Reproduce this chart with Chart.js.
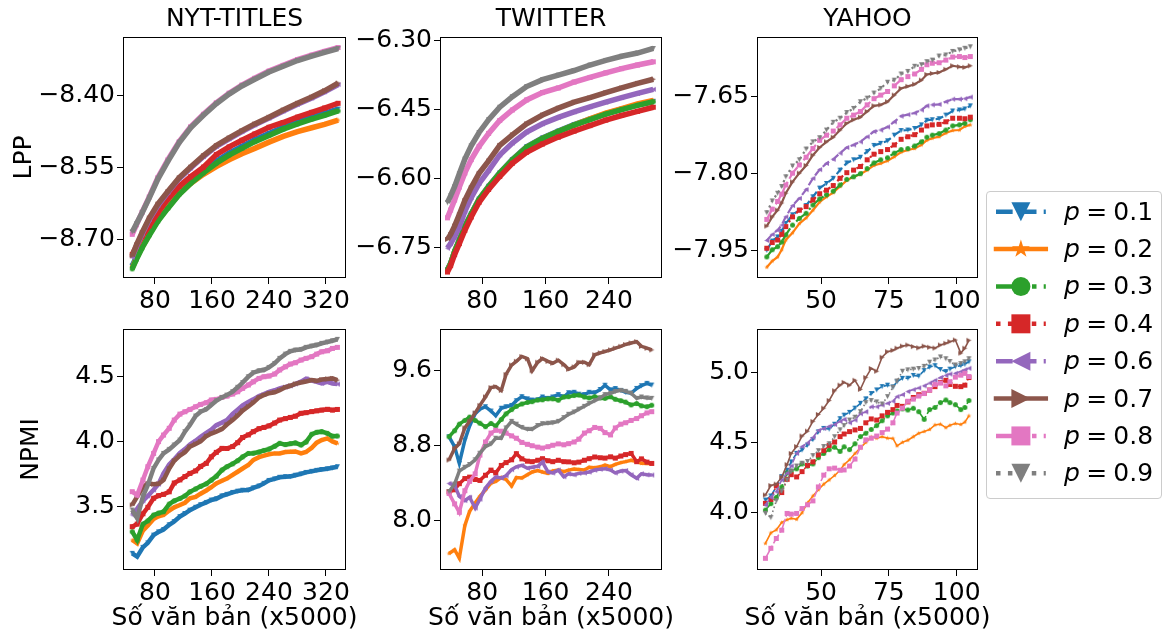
<!DOCTYPE html>
<html>
<head>
<meta charset="utf-8">
<title>LPP / NPMI theo số văn bản</title>
<script src="https://cdn.jsdelivr.net/npm/chart.js@4.4.1/dist/chart.umd.min.js"></script>
<style>
  html, body { margin: 0; padding: 0; background: #fff; }
  body { position: relative; width: 1165px; height: 637px; overflow: hidden;
         font-family: "DejaVu Sans", sans-serif; color: #000; }
  .panel { position: absolute; }
  .ptitle, .xlabel { position: absolute; width: 300px; font-size: 25px; line-height: 30px;
            text-align: center; white-space: nowrap; }
  #legend { position: absolute; left: 986px; top: 191px; width: 174px; height: 306px;
            border: 1px solid #cccccc; border-radius: 4px; background: #fff; }
  #lcanvas { position: absolute; left: 986px; top: 191px; }
  .lrow { position: absolute; left: 1064px; font-size: 25px; line-height: 30px; white-space: nowrap; }
</style>
</head>
<body>
<div id="legend"></div>
<canvas id="lcanvas" width="176" height="308"></canvas>
<script>
const P_VALUES = ['0.1', '0.2', '0.3', '0.4', '0.6', '0.7', '0.8', '0.9'];
const COLORS   = ['#1f77b4', '#ff7f0e', '#2ca02c', '#d62728', '#9467bd', '#8c564b', '#e377c2', '#7f7f7f'];
const MARKERS  = ['v', '*', 'o', 's', '<', '>', 's', 'v'];
const STYLES   = ['--', '-', '-.', ':', '--', '-', '-.', ':'];

// ---- LPP (top row), one list per p in P_VALUES order ----
const NYT_X_LPP = [48, 54, 62, 72, 84, 98, 114, 130, 148, 166, 184, 202, 220, 240, 260, 280, 300, 318, 337];
const NYT_LPP = [
  [-8.756, -8.737, -8.713, -8.688, -8.659, -8.632, -8.603, -8.580, -8.558, -8.538, -8.521, -8.507, -8.493, -8.480, -8.467, -8.456, -8.446, -8.438, -8.429],
  [-8.760, -8.740, -8.716, -8.690, -8.661, -8.634, -8.606, -8.584, -8.565, -8.549, -8.535, -8.522, -8.511, -8.498, -8.486, -8.476, -8.468, -8.461, -8.452],
  [-8.762, -8.742, -8.718, -8.692, -8.663, -8.636, -8.607, -8.584, -8.562, -8.542, -8.525, -8.511, -8.497, -8.484, -8.471, -8.460, -8.450, -8.442, -8.433],
  [-8.732, -8.715, -8.694, -8.672, -8.645, -8.616, -8.590, -8.570, -8.550, -8.524, -8.508, -8.494, -8.481, -8.467, -8.457, -8.446, -8.436, -8.427, -8.417],
  [-8.738, -8.715, -8.689, -8.659, -8.630, -8.603, -8.574, -8.552, -8.528, -8.507, -8.491, -8.476, -8.462, -8.448, -8.433, -8.419, -8.406, -8.393, -8.378],
  [-8.735, -8.712, -8.686, -8.656, -8.627, -8.601, -8.572, -8.550, -8.526, -8.505, -8.489, -8.474, -8.460, -8.446, -8.431, -8.417, -8.404, -8.391, -8.375],
  [-8.690, -8.670, -8.644, -8.612, -8.572, -8.535, -8.497, -8.466, -8.440, -8.416, -8.396, -8.379, -8.365, -8.350, -8.338, -8.326, -8.317, -8.309, -8.301],
  [-8.685, -8.668, -8.645, -8.614, -8.575, -8.538, -8.499, -8.468, -8.442, -8.418, -8.398, -8.381, -8.367, -8.352, -8.340, -8.328, -8.319, -8.311, -8.303]
];

const TW_X_LPP = [36, 40, 45, 51, 58, 66, 76, 88, 102, 118, 136, 156, 176, 196, 216, 236, 256, 276, 296];
const TW_LPP = [
  [-6.799, -6.785, -6.759, -6.734, -6.704, -6.677, -6.645, -6.617, -6.588, -6.559, -6.531, -6.512, -6.497, -6.483, -6.471, -6.459, -6.449, -6.440, -6.432],
  [-6.800, -6.786, -6.760, -6.735, -6.705, -6.678, -6.646, -6.618, -6.589, -6.560, -6.532, -6.513, -6.498, -6.484, -6.470, -6.458, -6.448, -6.438, -6.430],
  [-6.800, -6.786, -6.760, -6.735, -6.705, -6.678, -6.646, -6.618, -6.589, -6.560, -6.532, -6.513, -6.498, -6.484, -6.472, -6.460, -6.450, -6.441, -6.433],
  [-6.804, -6.790, -6.766, -6.742, -6.713, -6.684, -6.652, -6.624, -6.596, -6.567, -6.543, -6.525, -6.510, -6.497, -6.485, -6.473, -6.463, -6.454, -6.445],
  [-6.752, -6.742, -6.727, -6.706, -6.672, -6.642, -6.611, -6.583, -6.549, -6.523, -6.499, -6.481, -6.467, -6.455, -6.444, -6.434, -6.424, -6.415, -6.406],
  [-6.733, -6.722, -6.704, -6.679, -6.648, -6.620, -6.589, -6.562, -6.528, -6.505, -6.481, -6.462, -6.447, -6.434, -6.424, -6.413, -6.403, -6.393, -6.384],
  [-6.686, -6.669, -6.647, -6.619, -6.588, -6.559, -6.530, -6.502, -6.474, -6.451, -6.429, -6.413, -6.403, -6.390, -6.380, -6.370, -6.361, -6.353, -6.346],
  [-6.653, -6.638, -6.618, -6.590, -6.558, -6.529, -6.500, -6.472, -6.445, -6.422, -6.400, -6.385, -6.375, -6.365, -6.353, -6.343, -6.334, -6.327, -6.317]
];

const YA_X_LPP = [30, 32, 34, 35.5, 37, 39.5, 42, 44.5, 47, 49.5, 52, 54.5, 57, 59.5, 62, 64.5, 67,
                  69.5, 72, 74.5, 77, 79.5, 82, 84.5, 87, 89, 91, 93.5, 96, 98.5, 101, 103, 105];
const YA_LPP = [
  [-7.949, -7.931, -7.923, -7.912, -7.897, -7.880, -7.871, -7.862, -7.845, -7.828, -7.819, -7.809, -7.793, -7.779, -7.773, -7.768, -7.757,
   -7.745, -7.741, -7.736, -7.725, -7.716, -7.715, -7.712, -7.705, -7.696, -7.695, -7.693, -7.686, -7.678, -7.676, -7.674, -7.668],
  [-7.982, -7.970, -7.962, -7.948, -7.929, -7.915, -7.897, -7.886, -7.871, -7.855, -7.845, -7.837, -7.825, -7.813, -7.806, -7.801, -7.793,
   -7.784, -7.780, -7.775, -7.767, -7.758, -7.754, -7.751, -7.744, -7.735, -7.731, -7.728, -7.721, -7.716, -7.715, -7.708, -7.705],
  [-7.962, -7.948, -7.942, -7.933, -7.919, -7.900, -7.887, -7.877, -7.861, -7.849, -7.841, -7.834, -7.822, -7.811, -7.806, -7.800, -7.790,
   -7.779, -7.773, -7.769, -7.760, -7.753, -7.751, -7.746, -7.738, -7.729, -7.725, -7.722, -7.715, -7.707, -7.705, -7.702, -7.695],
  [-7.945, -7.934, -7.929, -7.918, -7.903, -7.884, -7.871, -7.864, -7.851, -7.839, -7.832, -7.823, -7.809, -7.798, -7.793, -7.786, -7.773,
   -7.762, -7.757, -7.753, -7.744, -7.733, -7.728, -7.724, -7.715, -7.707, -7.705, -7.704, -7.699, -7.692, -7.692, -7.693, -7.690],
  [-7.930, -7.918, -7.910, -7.900, -7.884, -7.862, -7.848, -7.831, -7.809, -7.792, -7.780, -7.772, -7.760, -7.749, -7.744, -7.738, -7.728,
   -7.718, -7.715, -7.709, -7.699, -7.688, -7.685, -7.682, -7.676, -7.668, -7.666, -7.665, -7.660, -7.655, -7.655, -7.654, -7.651],
  [-7.902, -7.884, -7.871, -7.857, -7.838, -7.816, -7.799, -7.784, -7.764, -7.749, -7.738, -7.729, -7.715, -7.702, -7.695, -7.690, -7.679,
   -7.668, -7.666, -7.660, -7.647, -7.634, -7.630, -7.626, -7.618, -7.607, -7.605, -7.603, -7.597, -7.590, -7.592, -7.593, -7.590],
  [-7.889, -7.869, -7.854, -7.840, -7.822, -7.799, -7.783, -7.768, -7.751, -7.735, -7.725, -7.717, -7.705, -7.692, -7.686, -7.679, -7.666,
   -7.654, -7.647, -7.640, -7.629, -7.617, -7.611, -7.606, -7.597, -7.588, -7.585, -7.584, -7.579, -7.573, -7.572, -7.574, -7.572],
  [-7.876, -7.853, -7.838, -7.825, -7.806, -7.785, -7.773, -7.752, -7.738, -7.730, -7.715, -7.700, -7.692, -7.681, -7.673, -7.660, -7.653,
   -7.643, -7.634, -7.622, -7.618, -7.606, -7.601, -7.591, -7.588, -7.582, -7.579, -7.571, -7.569, -7.562, -7.559, -7.556, -7.553]
];

// ---- NPMI (bottom row) ----
const NYT_X_NPMI = [48, 55, 63, 70, 78, 85, 92, 100, 107, 115, 122, 129, 137, 144, 152, 159, 166, 174, 181, 189,
                    196, 203, 211, 218, 226, 233, 240, 248, 255, 263, 270, 277, 285, 292, 300, 307, 314, 322, 329, 336];
const NYT_NPMI = [
  [3.134, 3.108, 3.180, 3.215, 3.275, 3.300, 3.318, 3.355, 3.380, 3.418, 3.442, 3.468, 3.490, 3.510, 3.528, 3.546, 3.556, 3.578, 3.590, 3.605,
   3.615, 3.622, 3.624, 3.640, 3.655, 3.675, 3.698, 3.710, 3.722, 3.727, 3.728, 3.738, 3.748, 3.760, 3.768, 3.776, 3.782, 3.788, 3.795, 3.804],
  [3.237, 3.211, 3.310, 3.350, 3.400, 3.420, 3.431, 3.465, 3.490, 3.508, 3.525, 3.559, 3.570, 3.595, 3.620, 3.645, 3.674, 3.695, 3.712, 3.740,
   3.765, 3.790, 3.817, 3.856, 3.878, 3.890, 3.900, 3.907, 3.907, 3.918, 3.920, 3.922, 3.907, 3.918, 3.950, 3.990, 4.010, 4.023, 4.000, 3.985],
  [3.302, 3.237, 3.360, 3.385, 3.430, 3.445, 3.456, 3.515, 3.540, 3.558, 3.578, 3.610, 3.632, 3.652, 3.672, 3.700, 3.730, 3.778, 3.804, 3.826,
   3.850, 3.880, 3.907, 3.908, 3.918, 3.930, 3.940, 3.962, 3.985, 3.975, 3.982, 3.988, 3.972, 3.995, 4.055, 4.070, 4.075, 4.062, 4.040, 4.041],
  [3.340, 3.360, 3.440, 3.490, 3.560, 3.580, 3.590, 3.610, 3.678, 3.702, 3.728, 3.752, 3.772, 3.806, 3.830, 3.880, 3.915, 3.946, 3.945, 3.960,
   3.990, 4.030, 4.050, 4.075, 4.098, 4.108, 4.120, 4.142, 4.165, 4.176, 4.185, 4.195, 4.217, 4.222, 4.230, 4.236, 4.242, 4.248, 4.242, 4.247],
  [3.431, 3.480, 3.540, 3.578, 3.625, 3.670, 3.753, 3.822, 3.862, 3.910, 3.940, 3.975, 4.005, 4.035, 4.065, 4.090, 4.126, 4.145, 4.165, 4.212,
   4.245, 4.279, 4.305, 4.325, 4.350, 4.365, 4.383, 4.395, 4.410, 4.420, 4.430, 4.445, 4.462, 4.485, 4.470, 4.460, 4.448, 4.460, 4.448, 4.443],
  [3.508, 3.572, 3.645, 3.675, 3.668, 3.672, 3.701, 3.790, 3.850, 3.890, 3.915, 3.959, 3.980, 4.000, 4.040, 4.060, 4.075, 4.095, 4.130, 4.165,
   4.200, 4.238, 4.270, 4.300, 4.340, 4.358, 4.372, 4.380, 4.395, 4.418, 4.430, 4.445, 4.455, 4.463, 4.474, 4.468, 4.478, 4.483, 4.487, 4.474],
  [3.611, 3.585, 3.701, 3.804, 3.907, 3.998, 4.049, 4.101, 4.165, 4.211, 4.229, 4.247, 4.268, 4.286, 4.299, 4.320, 4.325, 4.340, 4.350, 4.366,
   4.384, 4.410, 4.436, 4.461, 4.487, 4.500, 4.505, 4.521, 4.552, 4.577, 4.598, 4.608, 4.629, 4.642, 4.655, 4.675, 4.693, 4.701, 4.719, 4.727],
  [3.469, 3.405, 3.572, 3.662, 3.791, 3.856, 3.907, 3.938, 3.972, 4.010, 4.075, 4.126, 4.196, 4.229, 4.247, 4.281, 4.314, 4.340, 4.358, 4.384,
   4.418, 4.454, 4.500, 4.531, 4.546, 4.552, 4.572, 4.603, 4.642, 4.675, 4.696, 4.706, 4.711, 4.727, 4.737, 4.745, 4.758, 4.768, 4.778, 4.789]
];

const TW_X_NPMI = [38, 45, 51, 58, 64, 71, 77, 84, 91, 97, 104, 110, 117, 123, 130, 137, 143, 150, 156, 163,
                   169, 176, 183, 189, 196, 202, 209, 215, 222, 229, 235, 242, 248, 255, 261, 268, 275, 281, 288, 294];
const TW_NPMI = [
  [8.896, 8.790, 8.611, 8.860, 9.010, 9.140, 9.190, 9.216, 9.170, 9.120, 9.200, 9.216, 9.230, 9.280, 9.323, 9.300, 9.287, 9.290, 9.320, 9.305,
   9.320, 9.345, 9.320, 9.365, 9.370, 9.350, 9.345, 9.370, 9.365, 9.400, 9.445, 9.395, 9.410, 9.390, 9.370, 9.360, 9.411, 9.440, 9.465, 9.447],
  [7.650, 7.690, 7.600, 7.950, 8.100, 8.190, 8.260, 8.330, 8.400, 8.420, 8.460, 8.440, 8.370, 8.460, 8.455, 8.490, 8.520, 8.535, 8.520, 8.505,
   8.530, 8.540, 8.522, 8.540, 8.550, 8.545, 8.540, 8.570, 8.565, 8.575, 8.592, 8.576, 8.600, 8.620, 8.630, 8.645, 8.630, 8.612, 8.611, 8.611],
  [8.896, 8.960, 9.030, 9.070, 9.105, 9.070, 9.040, 9.003, 9.038, 9.010, 9.080, 9.140, 9.185, 9.220, 9.245, 9.262, 9.270, 9.287, 9.290, 9.300,
   9.300, 9.285, 9.320, 9.323, 9.335, 9.340, 9.320, 9.310, 9.323, 9.310, 9.305, 9.322, 9.295, 9.280, 9.265, 9.235, 9.250, 9.225, 9.216, 9.232],
  [8.309, 8.330, 8.395, 8.450, 8.465, 8.440, 8.430, 8.485, 8.540, 8.510, 8.590, 8.620, 8.650, 8.715, 8.660, 8.635, 8.630, 8.645, 8.662, 8.640,
   8.630, 8.645, 8.630, 8.628, 8.618, 8.625, 8.645, 8.662, 8.680, 8.672, 8.668, 8.682, 8.668, 8.690, 8.705, 8.718, 8.630, 8.660, 8.625, 8.611],
  [8.398, 8.380, 8.260, 8.215, 8.250, 8.135, 8.230, 8.350, 8.420, 8.465, 8.455, 8.480, 8.545, 8.575, 8.590, 8.560, 8.570, 8.580, 8.625, 8.520,
   8.510, 8.540, 8.470, 8.500, 8.490, 8.505, 8.510, 8.520, 8.540, 8.550, 8.555, 8.540, 8.510, 8.530, 8.535, 8.490, 8.452, 8.500, 8.490, 8.487],
  [8.647, 8.770, 8.820, 8.990, 9.060, 9.150, 9.230, 9.320, 9.420, 9.430, 9.390, 9.560, 9.660, 9.700, 9.752, 9.728, 9.600, 9.690, 9.730, 9.700,
   9.680, 9.712, 9.665, 9.615, 9.640, 9.690, 9.690, 9.665, 9.770, 9.790, 9.805, 9.822, 9.840, 9.860, 9.880, 9.895, 9.910, 9.860, 9.840, 9.822],
  [8.291, 8.180, 8.090, 8.320, 8.420, 8.500, 8.700, 8.840, 8.935, 8.965, 8.955, 8.935, 8.905, 8.880, 8.835, 8.815, 8.800, 8.785, 8.775, 8.790,
   8.805, 8.820, 8.810, 8.822, 8.840, 8.870, 8.935, 8.960, 8.995, 8.985, 8.940, 8.915, 8.990, 9.030, 9.045, 9.070, 9.090, 9.120, 9.150, 9.163],
  [8.309, 8.390, 8.530, 8.570, 8.600, 8.650, 8.720, 8.790, 8.820, 8.880, 8.880, 8.990, 9.060, 9.030, 8.995, 8.975, 8.975, 9.015, 9.035, 9.040,
   9.045, 9.060, 9.100, 9.135, 9.160, 9.190, 9.220, 9.250, 9.280, 9.310, 9.345, 9.360, 9.378, 9.390, 9.380, 9.360, 9.305, 9.320, 9.310, 9.305]
];

const YA_X_NPMI = [29.5, 31.5, 33.5, 35.5, 37.5, 39, 41, 43, 45, 47, 49, 51, 53, 55, 57, 58.5, 60.5, 62.5, 64.5, 66.5,
                   68.5, 70.5, 72.5, 74.5, 76.5, 78, 80, 82, 84, 86, 88, 90, 92, 94, 96, 97.5, 99.5, 101.5, 103, 104.5];
const YA_NPMI = [
  [4.086, 4.115, 4.180, 4.254, 4.300, 4.360, 4.421, 4.445, 4.480, 4.520, 4.575, 4.600, 4.595, 4.630, 4.670, 4.695, 4.715, 4.745, 4.780, 4.812,
   4.850, 4.876, 4.900, 4.910, 4.898, 4.935, 4.959, 4.960, 4.980, 4.975, 5.015, 5.040, 5.050, 5.022, 5.008, 5.025, 5.043, 5.050, 5.060, 5.078],
  [3.775, 3.850, 3.872, 3.925, 3.945, 3.955, 3.948, 3.995, 4.065, 4.115, 4.160, 4.200, 4.230, 4.262, 4.300, 4.340, 4.375, 4.420, 4.460, 4.500,
   4.538, 4.530, 4.540, 4.530, 4.528, 4.475, 4.500, 4.515, 4.540, 4.565, 4.578, 4.592, 4.625, 4.630, 4.605, 4.622, 4.635, 4.628, 4.645, 4.690],
  [4.014, 4.060, 4.105, 4.180, 4.280, 4.295, 4.310, 4.345, 4.330, 4.345, 4.390, 4.420, 4.448, 4.465, 4.435, 4.468, 4.448, 4.490, 4.541, 4.565,
   4.592, 4.620, 4.655, 4.690, 4.710, 4.725, 4.740, 4.732, 4.744, 4.720, 4.665, 4.735, 4.750, 4.785, 4.804, 4.785, 4.770, 4.735, 4.750, 4.800],
  [4.062, 4.090, 4.190, 4.140, 4.235, 4.268, 4.252, 4.290, 4.335, 4.360, 4.410, 4.440, 4.478, 4.502, 4.541, 4.560, 4.577, 4.589, 4.600, 4.640,
   4.668, 4.660, 4.690, 4.715, 4.735, 4.765, 4.758, 4.790, 4.822, 4.842, 4.852, 4.875, 4.900, 4.930, 4.945, 4.915, 4.902, 4.900, 4.910, 4.965],
  [4.050, 4.105, 4.145, 4.230, 4.280, 4.330, 4.421, 4.470, 4.495, 4.535, 4.585, 4.600, 4.615, 4.628, 4.650, 4.665, 4.640, 4.660, 4.705, 4.718,
   4.755, 4.755, 4.768, 4.780, 4.795, 4.828, 4.842, 4.864, 4.878, 4.890, 4.905, 4.925, 4.945, 4.965, 4.980, 4.990, 4.995, 5.008, 5.020, 5.031],
  [4.122, 4.190, 4.200, 4.250, 4.340, 4.420, 4.470, 4.545, 4.580, 4.650, 4.700, 4.745, 4.800, 4.870, 4.910, 4.930, 4.910, 4.945, 4.880, 4.965,
   5.030, 5.010, 5.110, 5.150, 5.160, 5.175, 5.190, 5.198, 5.187, 5.178, 5.190, 5.182, 5.176, 5.198, 5.210, 5.222, 5.234, 5.140, 5.175, 5.232],
  [3.668, 3.740, 3.810, 3.870, 3.990, 3.985, 3.990, 4.025, 4.052, 4.080, 4.180, 4.265, 4.310, 4.315, 4.300, 4.302, 4.330, 4.380, 4.465, 4.518,
   4.530, 4.545, 4.570, 4.595, 4.640, 4.710, 4.745, 4.795, 4.810, 4.832, 4.850, 4.875, 4.915, 4.925, 4.905, 4.935, 4.968, 4.982, 4.995, 4.972],
  [3.991, 3.960, 4.080, 4.150, 4.230, 4.290, 4.330, 4.350, 4.362, 4.405, 4.440, 4.470, 4.490, 4.540, 4.590, 4.620, 4.660, 4.680, 4.720, 4.785,
   4.800, 4.790, 4.775, 4.828, 4.895, 4.940, 5.010, 5.020, 5.025, 5.030, 5.045, 5.075, 5.091, 5.113, 5.100, 5.080, 5.055, 5.065, 5.078, 5.100]
];

// tick labels
const NYT_X_TICKS = [80, 160, 240, 320];
const TW_X_TICKS  = [80, 160, 240];
const YA_X_TICKS  = [50, 75, 100];
const NYT_LPP_TICKS = [-8.70, -8.55, -8.40];
const TW_LPP_TICKS  = [-6.75, -6.60, -6.45, -6.30];
const YA_LPP_TICKS  = [-7.95, -7.80, -7.65];
const NYT_NPMI_TICKS = [3.5, 4.0, 4.5];
const TW_NPMI_TICKS  = [8.0, 8.8, 9.6];
const YA_NPMI_TICKS  = [4.0, 4.5, 5.0];

const FONT = "'DejaVu Sans', sans-serif";
const DASHES = { '-': [], '--': [3.7, 1.6], '-.': [6.4, 1.6, 1, 1.6], ':': [1, 1.65] };

function drawMarker(g, shape, x, y, ms, color) {
  const h = ms / 2;
  g.fillStyle = color;
  g.beginPath();
  if (shape === 'o') {
    g.arc(x, y, h, 0, Math.PI * 2);
  } else if (shape === 's') {
    g.rect(x - h, y - h, ms, ms);
  } else if (shape === 'v') {
    g.moveTo(x - h, y - h); g.lineTo(x + h, y - h); g.lineTo(x, y + h);
  } else if (shape === '<') {
    g.moveTo(x + h, y - h); g.lineTo(x + h, y + h); g.lineTo(x - h, y);
  } else if (shape === '>') {
    g.moveTo(x - h, y - h); g.lineTo(x - h, y + h); g.lineTo(x + h, y);
  } else if (shape === '*') {
    for (let k = 0; k < 10; k++) {
      const a = -Math.PI / 2 + k * Math.PI / 5;
      const r = k % 2 ? h * 0.382 : h;
      g.lineTo(x + r * Math.cos(a), y + r * Math.sin(a));
    }
  }
  g.closePath();
  g.fill();
}

function markerImage(shape, color, ms) {
  const c = document.createElement('canvas');
  c.width = c.height = Math.ceil(ms) + 2;
  drawMarker(c.getContext('2d'), shape, c.width / 2, c.height / 2, ms, color);
  return c;
}

const fmtY = d => v => (v < 0 ? '\u2212' : '') + Math.abs(v).toFixed(d);

// draws the full box round the plot area, like matplotlib spines
const frame = {
  id: 'frame',
  afterDraw(chart) {
    const a = chart.chartArea, g = chart.ctx;
    g.save();
    g.strokeStyle = '#000';
    g.lineWidth = 1;
    g.strokeRect(a.left + 0.5, a.top + 0.5, a.right - a.left - 1, a.bottom - a.top - 1);
    g.restore();
  }
};

function addText(cls, text, centerX, top) {
  const t = document.createElement('div');
  t.className = cls;
  t.textContent = text;
  t.style.left = (centerX - 150) + 'px';
  t.style.top = top + 'px';
  document.body.appendChild(t);
}

function addPanel(p) {
  const PT = 16, PR = 16;
  const w = (p.R - p.L) + p.yw + PR;
  const h = (p.B - p.T) + PT + p.xh;
  const div = document.createElement('div');
  div.className = 'panel';
  div.style.left = (p.L - p.yw) + 'px';
  div.style.top = (p.T - PT) + 'px';
  const cv = document.createElement('canvas');
  cv.width = w; cv.height = h;
  cv.style.width = w + 'px'; cv.style.height = h + 'px';
  div.appendChild(cv);
  document.body.appendChild(div);

  if (p.title) addText('ptitle', p.title, (p.L + p.R) / 2, 3);
  if (p.xTitle) addText('xlabel', p.xTitle, (p.L + p.R) / 2, 602);

  const datasets = p.series.map((ys, i) => ({
    label: 'p = ' + P_VALUES[i],
    data: p.xs.map((x, k) => ({ x: x, y: ys[k] })),
    borderColor: COLORS[i],
    backgroundColor: COLORS[i],
    borderWidth: p.lw,
    borderDash: p.dashed ? DASHES[STYLES[i]].map(d => d * p.lw) : [],
    pointStyle: markerImage(MARKERS[i], COLORS[i], p.ms),
    pointRadius: 3,
    tension: 0,
    fill: false,
    order: 7 - i
  }));

  new Chart(cv, {
    type: 'line',
    data: { datasets },
    options: {
      responsive: false,
      animation: false,
      events: [],
      layout: { padding: { left: 0, top: PT, right: PR, bottom: 0 } },
      plugins: { legend: { display: false }, tooltip: { enabled: false } },
      scales: {
        x: {
          type: 'linear', min: p.xMin, max: p.xMax,
          afterBuildTicks: s => { s.ticks = p.xTicks.map(v => ({ value: v })); },
          afterFit: s => { s.height = p.xh; s.paddingLeft = 0; s.paddingRight = 0; },
          grid: { drawOnChartArea: false, tickLength: 6, tickWidth: 1, tickColor: '#000' },
          border: { display: false },
          ticks: { color: '#000', padding: 2, maxRotation: 0, autoSkip: false,
                   font: { family: FONT, size: 25 }, callback: v => String(v) }
        },
        y: {
          type: 'linear', min: p.yMin, max: p.yMax,
          afterBuildTicks: s => { s.ticks = p.yTicks.map(v => ({ value: v })); },
          afterFit: s => { s.width = p.yw; s.paddingTop = 0; s.paddingBottom = 0; },
          grid: { drawOnChartArea: false, tickLength: 6, tickWidth: 1, tickColor: '#000' },
          border: { display: false },
          ticks: { color: '#000', padding: 2, autoSkip: false,
                   font: { family: FONT, size: 25 }, callback: fmtY(p.yDec) },
          title: { display: !!p.yTitle, text: p.yTitle || '', color: '#000', padding: 0,
                   font: { family: FONT, size: 25, lineHeight: 1.2 } }
        }
      }
    },
    plugins: [frame]
  });
}

const XLABEL = 'Số văn bản (x5000)';

addPanel({ title: 'NYT-TITLES', L: 123, R: 346, T: 37, B: 278, yw: 114, xh: 40,
  xs: NYT_X_LPP, series: NYT_LPP, xMin: 35.1, xMax: 348.1, yMin: -8.781, yMax: -8.279,
  xTicks: NYT_X_TICKS, yTicks: NYT_LPP_TICKS, yDec: 2, yTitle: 'LPP', lw: 5.5, ms: 5, dashed: false });
addPanel({ title: 'TWITTER', L: 440, R: 662, T: 37, B: 278, yw: 100, xh: 40,
  xs: TW_X_LPP, series: TW_LPP, xMin: 26.6, xMax: 307, yMin: -6.817, yMax: -6.292,
  xTicks: TW_X_TICKS, yTicks: TW_LPP_TICKS, yDec: 2, lw: 5.5, ms: 5, dashed: false });
addPanel({ title: 'YAHOO', L: 757, R: 978, T: 37, B: 278, yw: 100, xh: 40,
  xs: YA_X_LPP, series: YA_LPP, xMin: 26.4, xMax: 107.85, yMin: -8.003, yMax: -7.534,
  xTicks: YA_X_TICKS, yTicks: YA_LPP_TICKS, yDec: 2, lw: 2.2, ms: 5, dashed: true });

addPanel({ L: 123, R: 346, T: 329, B: 570, yw: 107, xh: 40,
  xs: NYT_X_NPMI, series: NYT_NPMI, xMin: 35.1, xMax: 348.1, yMin: 3.005, yMax: 4.869,
  xTicks: NYT_X_TICKS, yTicks: NYT_NPMI_TICKS, yDec: 1, yTitle: 'NPMI', xTitle: XLABEL, lw: 4.5, ms: 5, dashed: false });
addPanel({ L: 440, R: 662, T: 329, B: 570, yw: 100, xh: 40,
  xs: TW_X_NPMI, series: TW_NPMI, xMin: 26.6, xMax: 307, yMin: 7.474, yMax: 10.045,
  xTicks: TW_X_TICKS, yTicks: TW_NPMI_TICKS, yDec: 1, xTitle: XLABEL, lw: 3.5, ms: 5, dashed: false });
addPanel({ L: 757, R: 978, T: 329, B: 570, yw: 100, xh: 40,
  xs: YA_X_NPMI, series: YA_NPMI, xMin: 26.4, xMax: 107.85, yMin: 3.584, yMax: 5.313,
  xTicks: YA_X_TICKS, yTicks: YA_NPMI_TICKS, yDec: 1, xTitle: XLABEL, lw: 1.6, ms: 5, dashed: true });

/* ───────── legend: handles on a canvas, labels as text ───────── */
(function legend() {
  const g = document.getElementById('lcanvas').getContext('2d');
  const LW = 4.5;
  P_VALUES.forEach((v, i) => {
    const cy = 211.7 + 37.37 * i - 191;
    g.save();
    g.strokeStyle = COLORS[i];
    g.lineWidth = LW;
    g.lineCap = STYLES[i] === '-' ? 'square' : 'butt';
    g.setLineDash(DASHES[STYLES[i]].map(d => d * LW));
    g.beginPath();
    g.moveTo(10, cy);
    g.lineTo(59.8, cy);
    g.stroke();
    g.restore();
    drawMarker(g, MARKERS[i], 34.9, cy, 19, COLORS[i]);

    const row = document.createElement('div');
    row.className = 'lrow';
    row.style.top = (211.7 + 37.37 * i - 15) + 'px';
    row.innerHTML = '<i>p</i>\u2005=\u2005' + v;
    document.body.appendChild(row);
  });
})();
</script>
</body>
</html>
